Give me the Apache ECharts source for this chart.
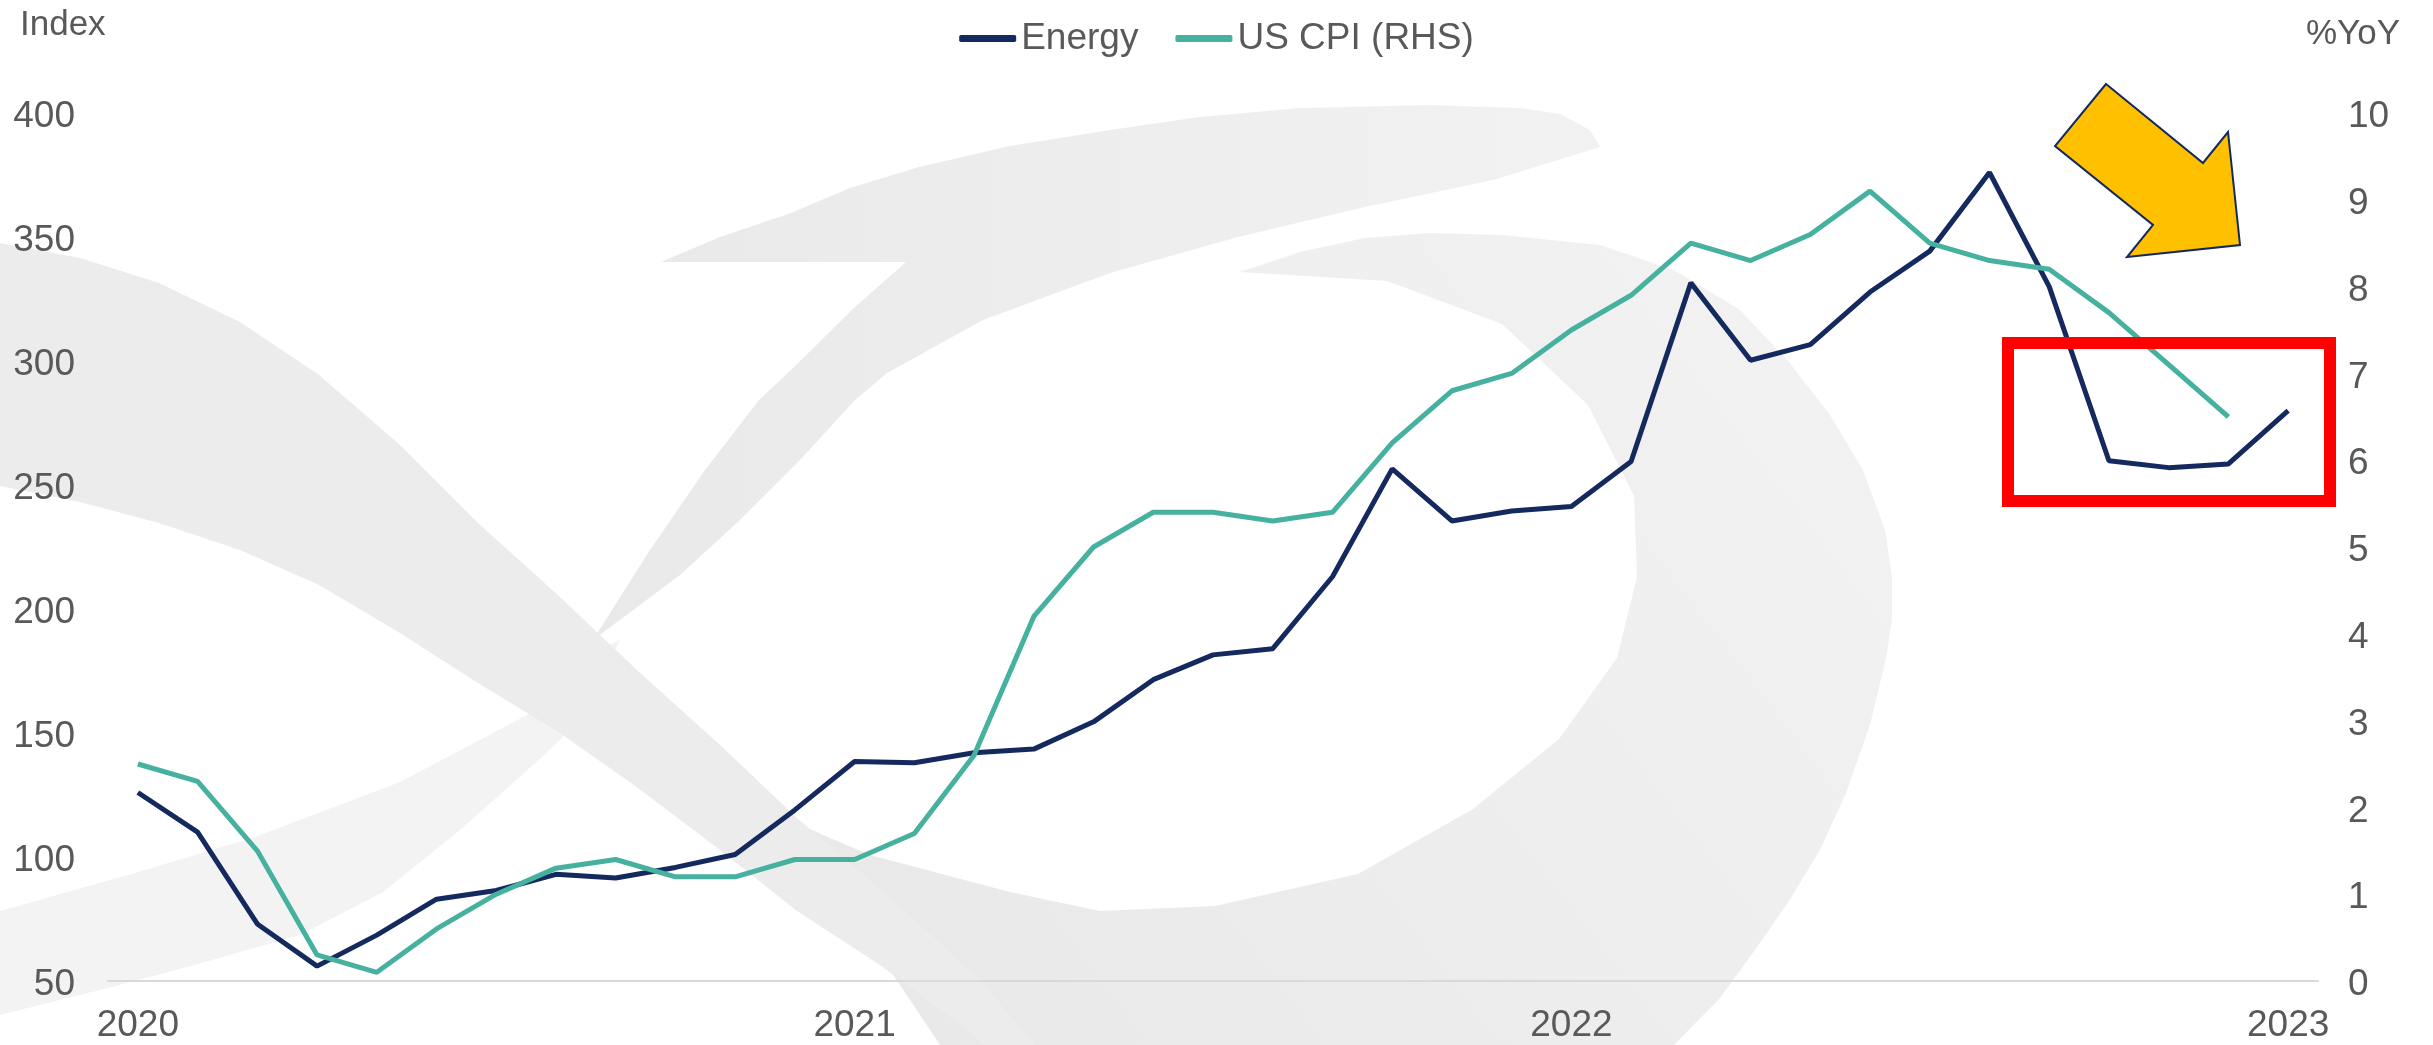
<!DOCTYPE html>
<html>
<head>
<meta charset="utf-8">
<script src="https://cdn.jsdelivr.net/npm/echarts@6/dist/echarts.min.js"></script>
<style>
html,body{margin:0;padding:0;background:#fff;}
#chart{width:2433px;height:1045px;}
</style>
</head>
<body>
<div id="chart"></div>
<script>
const categories = [
  '2020-01','2020-02','2020-03','2020-04','2020-05','2020-06','2020-07','2020-08','2020-09','2020-10','2020-11','2020-12',
  '2021-01','2021-02','2021-03','2021-04','2021-05','2021-06','2021-07','2021-08','2021-09','2021-10','2021-11','2021-12',
  '2022-01','2022-02','2022-03','2022-04','2022-05','2022-06','2022-07','2022-08','2022-09','2022-10','2022-11','2022-12',
  '2023-01'
];
const yearTicks = ['2020', '2021', '2022', '2023'];
const energy = [
  126, 110, 73, 56, 68.5, 83, 86.5, 93, 91.5, 95.8, 101, 119,
  138.5, 138, 142, 143.5, 154.5, 171.5, 181.5, 184, 213, 256.5, 235.5, 239.5,
  241.3, 259.5, 331.5, 300.3, 306.6, 327.8, 344.3, 376, 330, 259.8, 257, 258.5,
  280
];
const usCpi = [
  2.5, 2.3, 1.5, 0.3, 0.1, 0.6, 1.0, 1.3, 1.4, 1.2, 1.2, 1.4,
  1.4, 1.7, 2.6, 4.2, 5.0, 5.4, 5.4, 5.3, 5.4, 6.2, 6.8, 7.0,
  7.5, 7.9, 8.5, 8.3, 8.6, 9.1, 8.5, 8.3, 8.2, 7.7, 7.1, 6.5
];

const FONT = "'Liberation Sans', Arial, sans-serif";
const TXT = '#595959';

const chart = echarts.init(document.getElementById('chart'), null, {renderer: 'canvas'});

const grad = (x0, y0, x1, y1, c0, c1) => new echarts.graphic.LinearGradient(x0, y0, x1, y1, [
  { offset: 0, color: c0 }, { offset: 1, color: c1 }
]);

const watermark = [
  { // tail (lower-left), lighter
    type: 'polygon', z: -10, silent: true,
    shape: { points: [[0,911],[128,875],[255,837],[400,782],[529,714],[600,650],[620,640],[580,720],[542,757],[460,830],[383,892],[300,935],[191,966],[100,990],[0,1015]] },
    style: { fill: '#f3f3f3' }
  },
  { // band B swoosh (up-right)
    type: 'polygon', z: -10, silent: true,
    shape: { points: [[593,640],[650,550],[705,470],[759,400],[791,370],[855,307],[906,262],[661,262],[720,237],[791,213],[850,188],[919,167],[1010,146],[1110,130],[1200,117],[1301,108],[1429,105],[1520,108],[1560,114],[1590,130],[1600,147],[1493,180],[1365,207],[1238,237],[1110,273],[983,320],[887,373],[855,400],[800,460],[740,520],[680,575]] },
    style: { fill: grad(0, 0, 1, 0, '#e9e9e9', '#f2f2f2') }
  },
  { // crescent / bowl
    type: 'polygon', z: -10, silent: true,
    shape: { points: [[1240,272],[1300,252],[1365,238],[1430,233],[1502,235],[1600,245],[1674,270],[1740,310],[1789,362],[1830,415],[1863,470],[1885,530],[1892,577],[1892,620],[1886,658],[1870,725],[1846,793],[1820,850],[1789,901],[1755,950],[1720,998],[1674,1045],[1660,1060],[950,1060],[870,940],[800,840],[800,825],[870,855],[1010,892],[1100,911],[1215,906],[1358,874],[1473,809],[1559,739],[1617,658],[1637,577],[1634,496],[1588,405],[1502,324],[1387,281]] },
    style: { fill: grad(1, 0, 0, 1, '#f3f3f3', '#e8e8e8') }
  },
  { // band A (down-right)
    type: 'polygon', z: -10, silent: true,
    shape: { points: [[0,243],[80,258],[159,283],[240,322],[319,375],[400,445],[478,523],[560,597],[638,671],[720,745],[797,818],[870,880],[925,929],[980,980],[1040,1050],[990,1050],[965,1028],[880,965],[797,911],[720,850],[638,788],[560,733],[478,683],[400,633],[319,585],[240,550],[159,523],[80,502],[0,486]] },
    style: { fill: '#ececec' }
  }
];

const annotations = [
  {
    type: 'rect', z: 50, silent: true,
    shape: { x: 2008, y: 343, width: 322, height: 158 },
    style: { fill: 'none', stroke: '#ff0000', lineWidth: 12 }
  },
  {
    type: 'polygon', z: 50, silent: true,
    shape: { points: [[2106,84],[2203,163],[2228,132],[2240,245],[2127,257],[2153,225],[2055,146]] },
    style: { fill: '#ffc000', stroke: '#13285f', lineWidth: 2 }
  },
  {
    type: 'text', z: 50, silent: true, left: 20, top: 8,
    style: { text: 'Index', font: "35px 'Liberation Sans', Arial, sans-serif", fill: TXT }
  },
  {
    type: 'text', z: 50, silent: true, right: 33, top: 17,
    style: { text: '%YoY', font: "35px 'Liberation Sans', Arial, sans-serif", fill: TXT }
  }
];

const yLabelRich = { v: { fontSize: 37, color: TXT, fontFamily: FONT, padding: [8, 0, 0, 0] } };

const option = {
  animation: false,
  backgroundColor: '#ffffff',
  textStyle: { fontFamily: FONT },
  legend: {
    top: 20, left: 'center', padding: 0,
    icon: 'roundRect', itemWidth: 57, itemHeight: 7, itemGap: 37,
    textStyle: { fontSize: 37, color: TXT, fontFamily: FONT },
    data: ['Energy', 'US CPI (RHS)']
  },
  grid: { left: 108, right: 115, top: 113, bottom: 64, containLabel: false, outerBoundsMode: 'none' },
  xAxis: {
    type: 'category', data: categories, boundaryGap: true,
    axisLine: { show: true, lineStyle: { color: '#d9d9d9', width: 2 } },
    axisTick: { show: false },
    splitLine: { show: false },
    axisLabel: {
      interval: (i) => i % 12 === 0,
      formatter: (v, i) => (i % 12 === 0 ? yearTicks[i / 12] : ''),
      fontSize: 37, color: TXT, margin: 26, fontFamily: FONT
    }
  },
  yAxis: [
    {
      type: 'value', min: 50, max: 400, interval: 50, position: 'left',
      axisLine: { show: false }, axisTick: { show: false }, splitLine: { show: false },
      axisLabel: { fontSize: 37, color: TXT, margin: 33, fontFamily: FONT, formatter: '{v|{value}}', rich: yLabelRich }
    },
    {
      type: 'value', min: 0, max: 10, interval: 1, position: 'right',
      axisLine: { show: false }, axisTick: { show: false }, splitLine: { show: false },
      axisLabel: { fontSize: 37, color: TXT, margin: 30, fontFamily: FONT, formatter: '{v|{value}}', rich: yLabelRich }
    }
  ],
  series: [
    {
      name: 'Energy', type: 'line', yAxisIndex: 0, data: energy,
      showSymbol: false, symbol: 'none',
      lineStyle: { color: '#14295e', width: 5 }, itemStyle: { color: '#14295e' }, z: 3
    },
    {
      name: 'US CPI (RHS)', type: 'line', yAxisIndex: 1, data: usCpi,
      showSymbol: false, symbol: 'none',
      lineStyle: { color: '#47b19f', width: 5 }, itemStyle: { color: '#47b19f' }, z: 3
    }
  ],
  graphic: watermark.concat(annotations)
};

chart.setOption(option);
</script>
</body>
</html>
